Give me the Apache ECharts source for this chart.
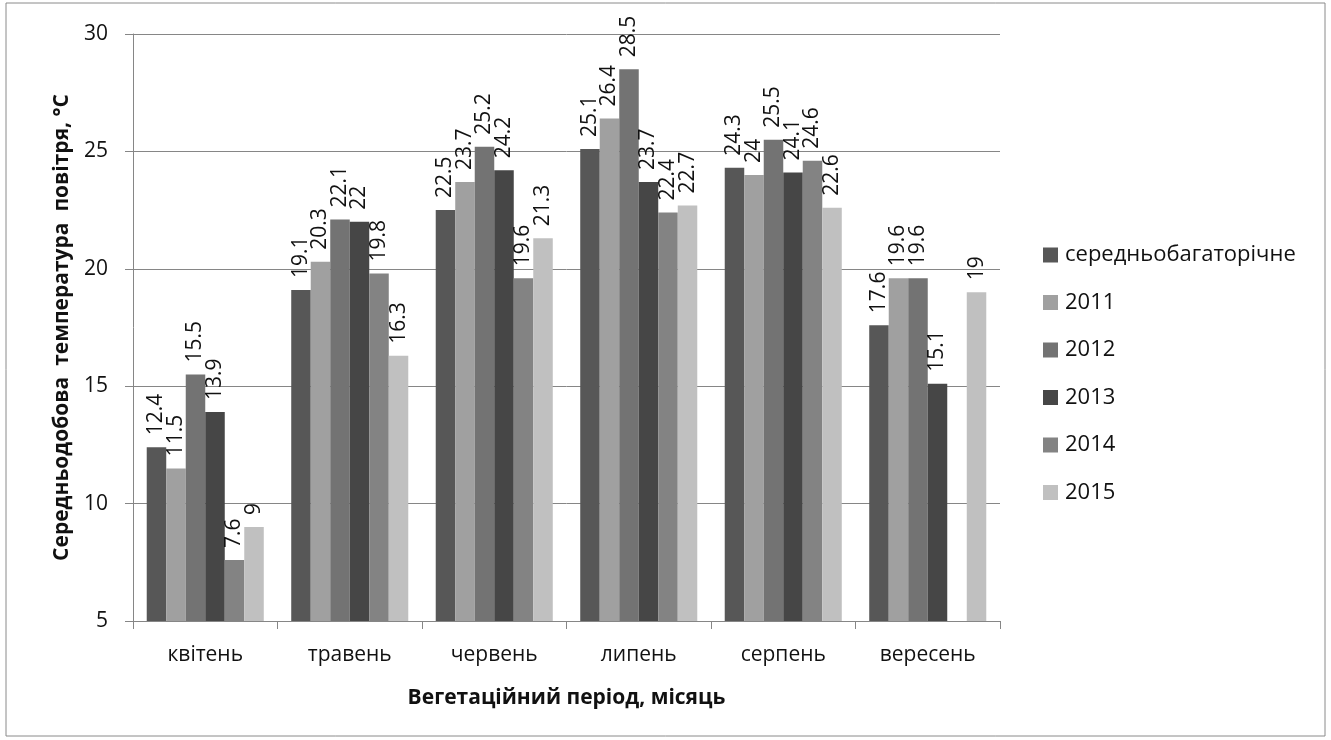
<!DOCTYPE html>
<html><head><meta charset="utf-8">
<script src="https://cdn.jsdelivr.net/npm/echarts@6/dist/echarts.min.js"></script>
<style>html,body{margin:0;padding:0;background:#fff}#c{width:1331px;height:740px}</style>
</head><body><div id="c"></div>
<script>
const categories = ['квітень','травень','червень','липень','серпень','вересень'];
const seriesNames = ['середньобагаторічне','2011','2012','2013','2014','2015'];
const sAvg  = [12.4, 19.1, 22.5, 25.1, 24.3, 17.6];
const s2011 = [11.5, 20.3, 23.7, 26.4, 24.0, 19.6];
const s2012 = [15.5, 22.1, 25.2, 28.5, 25.5, 19.6];
const s2013 = [13.9, 22.0, 24.2, 23.7, 24.1, 15.1];
const s2014 = [7.6, 19.8, 19.6, 22.4, 24.6, null];
const s2015 = [9.0, 16.3, 21.3, 22.7, 22.6, 19.0];
const yTicks = [5, 10, 15, 20, 25, 30];
const colors = ['#575757','#a0a0a0','#737373','#464646','#838383','#c0c0c0'];
const allData = [sAvg, s2011, s2012, s2013, s2014, s2015];
const FONT = 'Open Sans';
const chart = echarts.init(document.getElementById('c'), null, {renderer:'canvas'});
chart.setOption({
  animation:false,
  textStyle:{fontFamily:FONT},
  graphic:[{type:'rect',shape:{x:6,y:3,width:1319,height:733},style:{fill:'none',stroke:'#8a8a8a',lineWidth:1},silent:true}],
  grid:{left:133,right:331,top:34,bottom:119},
  legend:{
    orient:'vertical', left:1038, top:239, itemGap:25.5, itemWidth:15, itemHeight:15,
    icon:'rect', textStyle:{fontFamily:FONT,fontSize:22,color:'#111',padding:[0,0,0,2]},
    data:seriesNames
  },
  xAxis:{
    type:'category', data:categories,
    name:'Вегетаційний період, місяць', nameLocation:'middle', nameGap:67,
    nameTextStyle:{fontFamily:FONT,fontSize:21,fontWeight:'bold',color:'#111'},
    axisLine:{lineStyle:{color:'#868686'}},
    axisTick:{show:true,length:8,lineStyle:{color:'#868686'}},
    axisLabel:{fontFamily:FONT,fontSize:21,color:'#111',margin:24}
  },
  yAxis:{
    type:'value', min:5, max:30, interval:5,
    name:'Середньодобова  температура  повітря, °С', nameLocation:'middle', nameGap:60,
    nameTextStyle:{fontFamily:FONT,fontSize:21,fontWeight:'bold',color:'#111'},
    axisLine:{show:true,lineStyle:{color:'#868686'}},
    axisTick:{show:true,length:8,lineStyle:{color:'#868686'}},
    axisLabel:{fontFamily:FONT,fontSize:21,color:'#111',margin:25,
      formatter:v=>yTicks.includes(v)?String(v):''},
    splitLine:{lineStyle:{color:'#868686'}}
  },
  series: seriesNames.map((n,i)=>({
    name:n, type:'bar', data:allData[i], barGap:'0%', barCategoryGap:'19%',
    itemStyle:{color:colors[i]},
    label:{show:true, position:'top', rotate:90, align:'left', verticalAlign:'middle', distance:12,
      fontFamily:FONT, fontSize:21, color:'#111'}
  }))
});
</script></body></html>
